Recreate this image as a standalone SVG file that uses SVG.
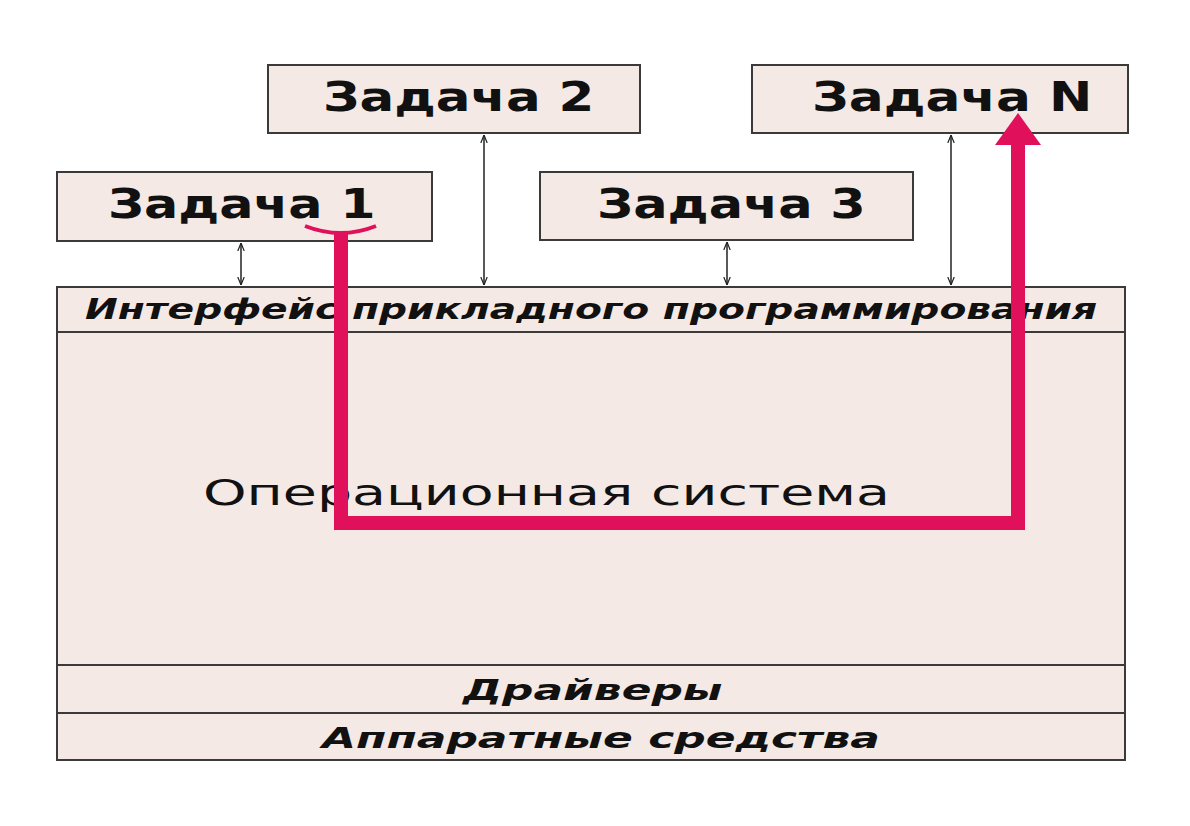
<svg xmlns="http://www.w3.org/2000/svg" width="1190" height="826" viewBox="0 0 1190 826">
<defs>
<style>
.box{fill:#f4e9e4;stroke:#3a3a3a;stroke-width:2}
.sep{stroke:#3a3a3a;stroke-width:2}
.task{font-family:"DejaVu Sans",sans-serif;font-weight:bold;font-size:40px;fill:#111}
.it{font-family:"DejaVu Sans",sans-serif;font-style:italic;font-weight:bold;font-size:29px;fill:#111}
.os{font-family:"DejaVu Sans",sans-serif;font-size:35px;fill:#111}
.conn{stroke:#222;stroke-width:1.5;fill:none;marker-start:url(#ah);marker-end:url(#ah)}
.red{stroke:#e0105a;stroke-width:14;fill:none}
</style>
<marker id="ah" viewBox="0 0 10 10" refX="10" refY="5" markerWidth="8" markerHeight="8" orient="auto-start-reverse" markerUnits="userSpaceOnUse">
<path d="M0,1 L10,5 L0,9" fill="none" stroke="#222" stroke-width="1.5"/>
</marker>
</defs>
<rect width="1190" height="826" fill="#fff"/>
<g id="os">
<rect class="box" x="57" y="287" width="1068" height="473"/>
<line class="sep" x1="57" y1="332" x2="1125" y2="332"/>
<line class="sep" x1="57" y1="665" x2="1125" y2="665"/>
<line class="sep" x1="57" y1="713" x2="1125" y2="713"/>
<text class="it" transform="translate(85,319) scale(1.4,1)" textLength="723" lengthAdjust="spacingAndGlyphs">Интерфейс прикладного программирования</text>
<text class="os" transform="translate(203,505) scale(1.5,1)" textLength="458" lengthAdjust="spacingAndGlyphs">Операционная система</text>
<text class="it" transform="translate(463,700) scale(1.5,1)" textLength="173" lengthAdjust="spacingAndGlyphs">Драйверы</text>
<text class="it" transform="translate(322,748) scale(1.5,1)" textLength="372" lengthAdjust="spacingAndGlyphs">Аппаратные средства</text>
</g>
<g id="task1"><rect class="box" x="57" y="172" width="375" height="69"/><text class="task" transform="translate(108,218) scale(1.28,1)" textLength="209" lengthAdjust="spacingAndGlyphs">Задача 1</text></g>
<g id="task2"><rect class="box" x="268" y="65" width="372" height="68"/><text class="task" transform="translate(323,111) scale(1.28,1)" textLength="212" lengthAdjust="spacingAndGlyphs">Задача 2</text></g>
<g id="task3"><rect class="box" x="540" y="172" width="373" height="68"/><text class="task" transform="translate(597,218) scale(1.28,1)" textLength="210" lengthAdjust="spacingAndGlyphs">Задача 3</text></g>
<g id="taskN"><rect class="box" x="752" y="65" width="376" height="68"/><text class="task" transform="translate(812,111) scale(1.28,1)" textLength="219" lengthAdjust="spacingAndGlyphs">Задача N</text></g>
<g id="connectors">
<line class="conn" x1="241" y1="243" x2="241" y2="285"/>
<line class="conn" x1="484" y1="135" x2="484" y2="285"/>
<line class="conn" x1="727" y1="242" x2="727" y2="285"/>
<line class="conn" x1="951" y1="135" x2="951" y2="285"/>
<path d="M305,226 Q341,240 376,226" fill="none" stroke="#e0105a" stroke-width="4"/>
<path class="red" d="M341,232 L341,523 L1018,523 L1018,140"/>
<polygon points="995,145 1041,145 1018,113" fill="#e0105a"/>
</g>
</svg>
